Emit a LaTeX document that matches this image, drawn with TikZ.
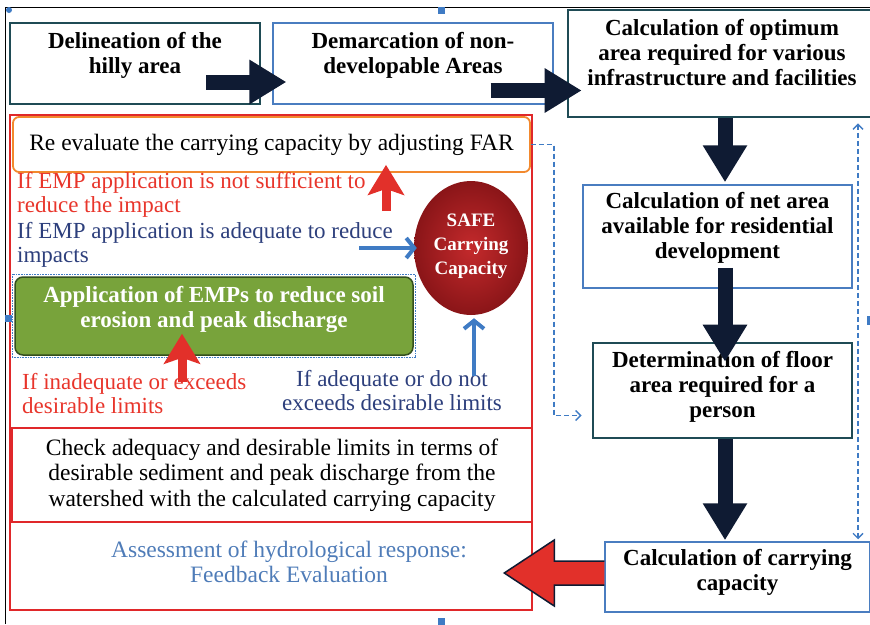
\documentclass[tikz,border=0pt]{standalone}
\usepackage{fontspec}
\setmainfont{Liberation Serif}
\usetikzlibrary{arrows.meta,positioning,calc,shapes.geometric}
\definecolor{navy}{HTML}{0F1B33}
\definecolor{slate}{HTML}{1F4B55}
\definecolor{boxblue}{HTML}{4A7DC0}
\definecolor{arrblue}{HTML}{3F7BC4}
\definecolor{framered}{HTML}{E0282A}
\definecolor{redarr}{HTML}{E2302A}
\definecolor{orangeb}{HTML}{F2892E}
\definecolor{empgreen}{HTML}{78A33B}
\definecolor{empdark}{HTML}{34501F}
\definecolor{redtxt}{HTML}{E8352B}
\definecolor{dbluetxt}{HTML}{2D3F7C}
\definecolor{lbluetxt}{HTML}{4F7CB8}
\definecolor{safelight}{HTML}{C42A2C}
\definecolor{safedark}{HTML}{8A1518}

\begin{document}
\begin{tikzpicture}[x=1pt,y=-1pt,
    heading/.style={font=\fontsize{23}{25}\selectfont\bfseries, align=center, inner sep=0pt},
    tealbox/.style={heading, draw=slate, line width=2.6pt, fill=white},
    bluebox/.style={heading, draw=boxblue, line width=1.5pt, fill=white},
    plain/.style={font=\fontsize{23.5}{25.5}\selectfont, inner sep=0pt},
    remark/.style={font=\fontsize{23}{24.5}\selectfont, inner sep=0pt},
    navyarrow/.style={draw=navy, line width=15pt, -{Triangle[length=37pt,width=42pt]}},
    redarrow/.style={draw=redarr, line width=9pt, -{Stealth[length=30pt,width=36pt,inset=6pt]}},
    bluearrow/.style={draw=arrblue, line width=4pt, -{Straight Barb[length=8pt,width=20pt]}},
    dashlink/.style={draw=arrblue, line width=1.4pt, dash pattern=on 5pt off 3pt},
    barb/.tip={Straight Barb[length=5pt,width=10pt]},
    handle/.style={fill=arrblue, minimum size=7pt, inner sep=0pt}]
  \useasboundingbox (0,0) rectangle (870,624);
  \draw[line width=0.8pt] (5,624) -- (5,7) -- (870,7);

  % top row
  \node[tealbox, minimum width=250pt, minimum height=81pt, text depth=22pt] (delin) at (135,63.5)
    {Delineation of the\\hilly area};
  \node[bluebox, line width=1.2pt, minimum width=280pt, minimum height=81pt, text depth=22pt] (demarc) at (413,63.5)
    {Demarcation of non-\\developable Areas};
  \node[tealbox, minimum width=308pt, minimum height=107pt, text depth=22pt] (optimum) at (722,63.5)
    {Calculation of optimum\\area required for various\\infrastructure and facilities};

  % right column
  \node[bluebox, minimum width=269pt, minimum height=103pt, text depth=22pt] (net) at (717.5,236.5)
    {Calculation of net area\\available for residential\\development};
  \node[tealbox, minimum width=259pt, minimum height=95pt, text depth=12pt] (determ) at (722.5,390.5)
    {Determination of floor\\area required for a\\person};
  \node[bluebox, minimum width=265pt, minimum height=70pt, text depth=14pt] (cc) at (737.5,577)
    {Calculation of carrying\\capacity};

  % left block
  \node[draw=framered, line width=1.8pt, minimum width=522pt, minimum height=495pt] (frame) at (271,362.5) {};
  \node[plain, draw=orangeb, line width=1.8pt, rounded corners=6pt, fill=white,
    minimum width=517pt, minimum height=55pt] (reeval) at (271.5,144.5)
    {Re evaluate the carrying capacity by adjusting FAR};
  \node[remark, text=redtxt, align=left, anchor=north west] (notsuff) at (17,172)
    {If EMP application is not sufficient to\\reduce the impact};
  \node[remark, text=dbluetxt, align=left, anchor=north west] (adequ) at (17,222)
    {If EMP application is adequate to reduce\\impacts};
  \node[ellipse, minimum width=114pt, minimum height=134pt, inner sep=0pt, draw=none,
    shading=radial, inner color=safelight, outer color=safedark, text=white,
    font=\fontsize{19}{24}\selectfont\bfseries, align=center, text depth=8pt] (safe) at (471,248)
    {SAFE\\Carrying\\Capacity};
  \node[heading, text=white, fill=empgreen, draw=empdark, line width=1.5pt, rounded corners=8pt,
    minimum width=398pt, minimum height=78pt, text depth=19pt] (emp) at (214,316)
    {Application of EMPs to reduce soil\\erosion and peak discharge};
  \draw[draw=arrblue, line width=0.6pt, densely dotted] ($(emp.north west)+(-2,-2)$) rectangle ($(emp.south east)+(2,2)$);
  \node[remark, text=redtxt, align=left, anchor=north west] (inadeq) at (22,373)
    {If inadequate or exceeds\\desirable limits};
  \node[remark, text=dbluetxt, align=center, anchor=north] (withinlim) at (392,370)
    {If adequate or do not\\exceeds desirable limits};
  \node[plain, draw=framered, line width=1.8pt, align=center,
    minimum width=520pt, minimum height=94pt] (check) at (272,475)
    {Check adequacy and desirable limits in terms of\\desirable sediment and peak discharge from the\\watershed with the calculated carrying capacity};
  \node[plain, text=lbluetxt, align=center, anchor=north, font=\fontsize{23.5}{24.5}\selectfont] (assess) at (289,541)
    {Assessment of hydrological response:\\Feedback Evaluation};

  % connectors
  \coordinate (axis) at (725,0);
  \coordinate (rail) at (858,0);
  \draw[navyarrow] ($(delin.east)+(-55,18.5)$) -- ($(demarc.west)+(14,18.5)$);
  \draw[navyarrow] ($(demarc.east)+(-63,27)$) -- ($(optimum.west)+(15,27)$);
  \draw[navyarrow] (axis |- optimum.south) -- ($(axis |- net.north)+(0,-2)$);
  \draw[navyarrow] ($(axis |- net.south)+(0,-21)$) -- ($(axis |- determ.north)+(0,20)$);
  \draw[navyarrow] (axis |- determ.south) -- ($(axis |- cc.north)+(0,-1)$);
  \draw[dashlink, barb-barb] ($(rail |- optimum.south)+(0,5)$) -- ($(rail |- cc.north)+(0,-2)$);
  \draw[dashlink, -barb] (reeval.east) -- ++(23,0) |- ($(determ.west)+(-10,25)$);
  \fill[redarr] (cc.west) ++(0,-16) -- ++(-50,0) -- ++(0,-21) -- ++(-50,33) -- ++(50,33) -- ++(0,-21) -- ++(50,0) -- cycle;
  \draw[navy, line width=1.5pt, line join=miter] (cc.west) ++(0,-16) -- ++(-50,0) -- ++(0,-21) -- ++(-50,33) -- ++(50,33) -- ++(0,-21) -- ++(50,0);
  \coordinate (upfrom) at (386,211);
  \draw[redarrow] (upfrom) -- ($(upfrom |- reeval.south)+(0,-8)$);
  \coordinate (rightfrom) at (359,248);
  \draw[bluearrow] (rightfrom) -- ($(safe.west)+(3,0)$);
  \coordinate (empfrom) at (182,382);
  \draw[redarrow] (empfrom) -- ($(empfrom |- emp.south)+(0,-22)$);
  \coordinate (safefrom) at (474,376);
  \draw[bluearrow] (safefrom) -- ($(safefrom |- safe.south)+(0,3)$);

  % selection handles
  \node[handle, circle, minimum size=6pt] (hnw) at (9,10) {};
  \node[handle] (hn) at (441,10) {};
  \node[handle] (hs) at (441,621) {};
  \node[handle] (hw) at (8,318) {};
  \node[handle, minimum width=3pt, minimum height=9pt] (he) at (868,320) {};
\end{tikzpicture}
\end{document}
